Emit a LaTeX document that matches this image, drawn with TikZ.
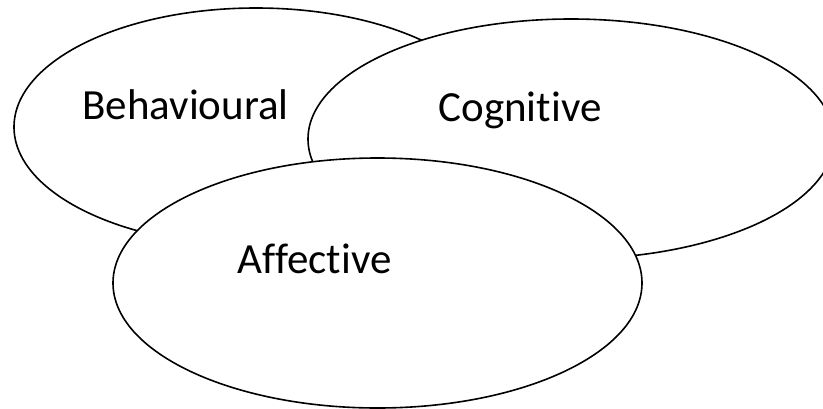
\documentclass[tikz,border=0pt]{standalone}
\usepackage{fontspec}
\setmainfont{Carlito}[Ligatures=NoCommon]
\usetikzlibrary{shapes.geometric}

\tikzset{
  areabox/.style={ellipse, draw=black, line width=1.6pt, fill=white, inner sep=0pt},
  areatext/.style={font=\fontsize{43}{50}\selectfont, text=black, anchor=base, inner sep=0pt}
}

\begin{document}
\begin{tikzpicture}[x=1pt, y=-1pt]
  \useasboundingbox (0,0) rectangle (823,408);
  \clip (0,0) rectangle (823,408);

  % three overlapping areas, later ones covering earlier ones
  \node[areabox, minimum width=484pt, minimum height=238pt] (beh) at (256,127) {};
  \node[areabox, minimum width=526pt, minimum height=240pt] (cog) at (571,139) {};
  \node[areabox, minimum width=529pt, minimum height=250pt] (aff) at (377.5,283) {};

  % area names
  \node[areatext] (behtext) at (185.5,119.5) {Behavioural};
  \node[areatext] (cogtext) at (520,121.5) {Cognitive};
  \node[areatext] (afftext) at (314.5,273) {Affective};
\end{tikzpicture}
\end{document}
